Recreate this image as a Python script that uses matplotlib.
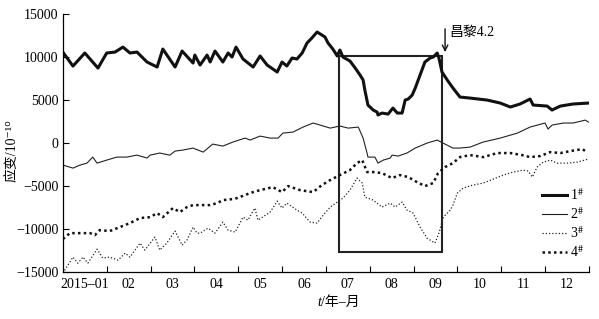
import matplotlib
matplotlib.use("Agg")
import matplotlib.pyplot as plt
import matplotlib.patches as patches

fam = ['Liberation Serif', 'Noto Sans CJK SC', 'DejaVu Sans']
plt.rcParams['font.family'] = fam
plt.rcParams['mathtext.fontset'] = 'stix'

# x = months since 2015-01-01, y = strain (10^-10)
m1 = [0.00, 0.23, 0.50, 0.80, 1.00, 1.19, 1.37, 1.53, 1.69, 1.92, 2.15, 2.28, 2.56, 2.72, 2.97,
      3.01, 3.13, 3.29, 3.36, 3.47, 3.65, 3.77, 3.86, 3.95, 4.11, 4.34, 4.50, 4.66, 4.89, 5.00,
      5.11, 5.23, 5.34, 5.46, 5.57, 5.68, 5.80, 5.98, 6.05, 6.16, 6.26, 6.32, 6.39, 6.55, 6.67,
      6.78, 6.85, 6.89, 6.96, 7.08, 7.17, 7.19, 7.28, 7.42, 7.53, 7.63, 7.74, 7.81, 7.88, 7.97,
      8.04, 8.15, 8.26, 8.38, 8.45, 8.54, 8.58, 8.65, 8.77, 8.90, 9.06, 9.29, 9.68, 9.98, 10.21,
      10.43, 10.66, 10.73, 11.05, 11.16, 11.35, 11.64, 11.99]
v1 = [10560, 8950, 10470, 8720, 10470, 10580, 11160, 10470, 10580, 9420, 8840, 10930, 8840, 10700, 9300,
      10230, 9070, 10230, 9420, 10700, 9420, 10470, 10000, 11160, 9770, 8840, 10120, 9070, 8260, 9420,
      8960, 9890, 9770, 10470, 11630, 12210, 12910, 12330, 11630, 10930, 10120, 10820, 10000, 9540, 8720,
      7910, 7330, 6160, 4420, 3840, 3600, 3260, 3490, 3370, 4070, 3490, 3490, 5000, 5120, 5580,
      6400, 7910, 9420, 9890, 10000, 10470, 9890, 8260, 7330, 6400, 5350, 5230, 5000, 4650, 4190,
      4540, 5120, 4420, 4300, 3840, 4300, 4540, 4650]

m2 = [0.00, 0.23, 0.39, 0.55, 0.68, 0.78, 1.00, 1.23, 1.46, 1.69, 1.92, 1.99, 2.21, 2.44, 2.56,
      2.74, 2.97, 3.20, 3.42, 3.65, 3.88, 4.16, 4.27, 4.50, 4.73, 4.91, 5.02, 5.25, 5.48, 5.71,
      5.87, 6.10, 6.32, 6.51, 6.74, 6.85, 6.94, 6.96, 7.12, 7.19, 7.31, 7.47, 7.51, 7.65, 7.85,
      8.04, 8.31, 8.54, 8.72, 8.90, 9.06, 9.29, 9.59, 9.98, 10.37, 10.66, 11.00, 11.07, 11.16, 11.42,
      11.64, 11.92, 11.99]
v2 = [-2560, -2910, -2560, -2330, -1630, -2330, -1980, -1630, -1630, -1400, -1740, -1400, -1160, -1400, -930,
      -810, -580, -1050, -120, -350, 120, 580, 350, 810, 580, 580, 1160, 1280, 1860, 2330,
      2090, 1740, 1980, 1740, 1860, 580, -1160, -1630, -1630, -2330, -1980, -1740, -1400, -1510, -1160,
      -580, 0, 350, -120, -580, -580, -470, 120, 580, 1160, 1860, 2330, 1630, 2090, 2330,
      2330, 2670, 2440]

m3 = [0.00, 0.23, 0.34, 0.46, 0.57, 0.78, 0.91, 1.07, 1.26, 1.42, 1.53, 1.76, 1.87, 2.10, 2.21,
      2.37, 2.56, 2.72, 2.83, 2.97, 3.06, 3.13, 3.31, 3.47, 3.65, 3.77, 3.93, 4.11, 4.22, 4.38,
      4.45, 4.73, 4.89, 5.00, 5.11, 5.34, 5.46, 5.64, 5.80, 5.94, 6.10, 6.26, 6.39, 6.55, 6.71,
      6.83, 6.89, 7.08, 7.28, 7.47, 7.58, 7.74, 7.85, 7.99, 8.15, 8.31, 8.49, 8.58, 8.68, 8.84,
      8.90, 9.00, 9.13, 9.36, 9.59, 9.82, 10.05, 10.27, 10.50, 10.62, 10.71, 10.82, 10.96, 11.12, 11.28,
      11.51, 11.74, 11.99]
v3 = [-15120, -13260, -13960, -13260, -13960, -12330, -13370, -13260, -13610, -12790, -13260, -11630, -12440, -10930, -12440,
      -11630, -10230, -11860, -11280, -9770, -10470, -10470, -9890, -10470, -9190, -10120, -10350, -8610, -8960, -7560,
      -8960, -8020, -6750, -7560, -6980, -7790, -8140, -9190, -9300, -8370, -7440, -6860, -6400, -5470, -4070,
      -4650, -6280, -6630, -7440, -6980, -7440, -6860, -7790, -8140, -9770, -11050, -11630, -10470, -8610, -7790,
      -7210, -5820, -5230, -4880, -4650, -4190, -3720, -3370, -3140, -3260, -3950, -2790, -2210, -1980, -2330,
      -2330, -2210, -1860]

m4 = [0.00, 0.16, 0.39, 0.62, 0.73, 0.84, 1.07, 1.30, 1.53, 1.76, 1.99, 2.15, 2.28, 2.51, 2.67,
      2.83, 2.97, 3.36, 3.52, 3.65, 3.88, 3.97, 4.27, 4.34, 4.50, 4.79, 5.00, 5.14, 5.41, 5.71,
      5.91, 6.10, 6.32, 6.55, 6.71, 6.83, 6.94, 7.08, 7.28, 7.51, 7.69, 7.88, 8.08, 8.26, 8.45,
      8.56, 8.72, 8.90, 9.06, 9.29, 9.59, 9.91, 10.21, 10.48, 10.66, 10.89, 11.12, 11.35, 11.58, 11.85,
      11.96]
v4 = [-11160, -10470, -10470, -10470, -10700, -10120, -10230, -9770, -9300, -8720, -8610, -8140, -8610, -7560, -8020,
      -7440, -7210, -7210, -6980, -6630, -6510, -6400, -5820, -5700, -5470, -5120, -5700, -5000, -5470, -5700,
      -4880, -4300, -3720, -3140, -2330, -1980, -3370, -3370, -3490, -4070, -3720, -3950, -4540, -5000, -4650,
      -3490, -2790, -2330, -1630, -1400, -1630, -1160, -1160, -1400, -1630, -1510, -1050, -1160, -930, -700,
      -1050]

month_labels = ['2015\u201301', '02', '03', '04', '05', '06', '07', '08', '09', '10', '11', '12']

fig = plt.figure(figsize=(5.99, 3.19), dpi=100)
ax = fig.add_axes([0.105, 0.147, 0.878, 0.809])

ax.plot(m1, v1, color='#111111', lw=2.2, label='1$^{\\#}$')
ax.plot(m2, v2, color='#222222', lw=0.8, label='2$^{\\#}$')
ax.plot(m3, v3, color='#222222', lw=0.9, linestyle=(0, (1, 1.6)), label='3$^{\\#}$')
ax.plot(m4, v4, color='#111111', lw=1.8, linestyle=(0, (1, 1.3)), label='4$^{\\#}$')

# boxed window and earthquake marker
ax.add_patch(patches.Rectangle((6.30, -12700), 2.35, 22800, fill=False, lw=1.5, ec='#222222'))
ax.annotate('', xy=(8.72, 10250), xytext=(8.72, 13600),
            arrowprops=dict(arrowstyle='->', color='#111111', lw=1.0))
ax.text(8.82, 12800, '昌黎4.2', fontsize=10, va='center', ha='left')

ax.set_xlim(0, 12)
ax.set_ylim(-15000, 15000)
ax.set_yticks(range(-15000, 15001, 5000))
ax.set_xticks(range(1, 13))
ax.set_xticklabels([])
ax.set_xticks([i + 0.5 for i in range(12)], minor=True)
ax.set_xticklabels(month_labels, minor=True)
ax.tick_params(axis='x', which='major', direction='in', length=4, width=0.8)
ax.tick_params(axis='x', which='minor', length=0, pad=4, labelsize=10)
ax.tick_params(axis='y', direction='in', length=4, width=0.8, labelsize=10, pad=3)

for s in ['top', 'right']:
    ax.spines[s].set_visible(False)
for s in ['left', 'bottom']:
    ax.spines[s].set_linewidth(0.9)

ax.set_ylabel('应变/10\u207b\u00b9\u2070', fontsize=10, family=fam)
ax.yaxis.set_label_coords(-0.085, 0.47)

# x label: italic t followed by /年–月
fig.text(0.536, 0.04, 't', fontsize=10, style='italic', ha='right', va='baseline')
fig.text(0.536, 0.04, '/年\u2013月', fontsize=10, ha='left', va='baseline', family=fam)

ax.legend(loc='lower right', bbox_to_anchor=(1.015, 0.0), frameon=False, fontsize=10,
          handlelength=1.8, handletextpad=0.2, labelspacing=0.22)

fig.savefig('out.png', dpi=100)
